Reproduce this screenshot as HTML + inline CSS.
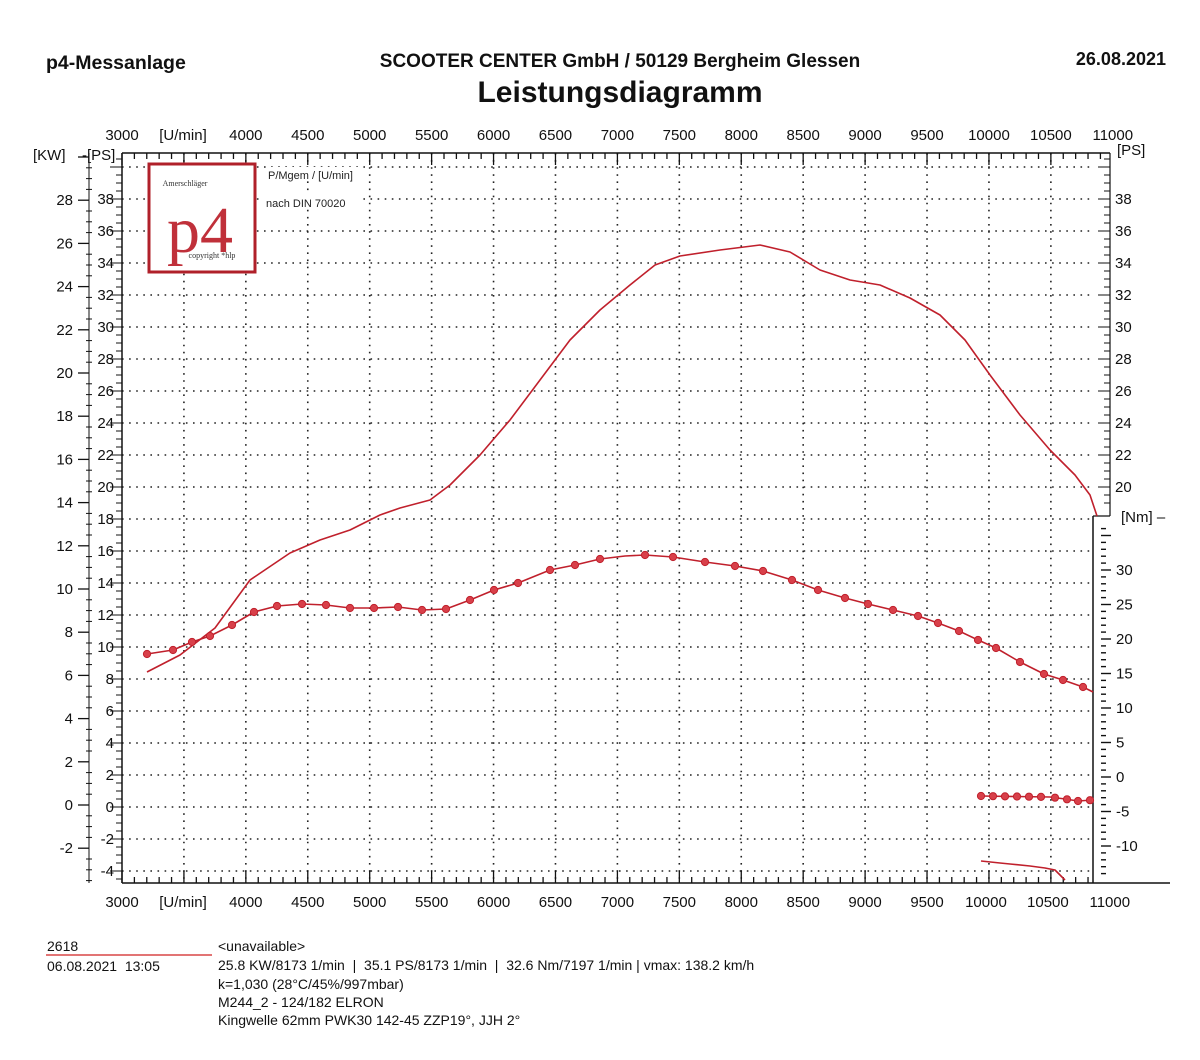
<!DOCTYPE html>
<html><head><meta charset="utf-8"><style>
html,body{margin:0;padding:0;background:#fff;}
svg{display:block;font-family:"Liberation Sans",Arial,sans-serif;}
</style></head><body>
<svg id="s" width="1200" height="1060" viewBox="0 0 1200 1060" xmlns="http://www.w3.org/2000/svg">
<text x="46" y="69" font-size="19.5" font-weight="bold" fill="#111">p4-Messanlage</text>
<text x="620" y="67" font-size="19" font-weight="bold" fill="#111" text-anchor="middle">SCOOTER CENTER GmbH / 50129 Bergheim Glessen</text>
<text x="620" y="102" font-size="30" font-weight="bold" fill="#111" text-anchor="middle">Leistungsdiagramm</text>
<text x="1166" y="65" font-size="18" font-weight="bold" fill="#111" text-anchor="end">26.08.2021</text>
<g id="g"></g>
<rect x="149" y="164" width="106" height="108" fill="#fff" stroke="#b0202a" stroke-width="3"/>
<text x="185" y="186" font-size="8" font-family="Liberation Serif,serif" fill="#333" text-anchor="middle">Amerschläger</text>
<text x="200" y="252" font-size="66" font-family="Liberation Serif,serif" fill="#c0303a" text-anchor="middle">p4</text>
<text x="212" y="258" font-size="8" font-family="Liberation Serif,serif" fill="#333" text-anchor="middle">copyright *hlp</text>
<rect x="266" y="167" width="96" height="14" fill="#fff"/>
<text x="268" y="179" font-size="11" fill="#222">P/Mgem / [U/min]</text>
<rect x="264" y="195" width="94" height="14" fill="#fff"/>
<text x="266" y="207" font-size="11" fill="#222">nach DIN 70020</text>
<text x="47" y="951" font-size="14" fill="#111">2618</text>
<line x1="46" y1="955" x2="212" y2="955" stroke="#d02020" stroke-width="1.2"/>
<text x="47" y="971" font-size="14" fill="#111">06.08.2021&#160;&#160;13:05</text>
<g font-size="14" fill="#111">
<text x="218" y="951">&lt;unavailable&gt;</text>
<text x="218" y="970">25.8 KW/8173 1/min&#160;&#160;|&#160;&#160;35.1 PS/8173 1/min&#160;&#160;|&#160;&#160;32.6 Nm/7197 1/min | vmax: 138.2 km/h</text>
<text x="218" y="989">k=1,030 (28°C/45%/997mbar)</text>
<text x="218" y="1007">M244_2 - 124/182 ELRON</text>
<text x="218" y="1025">Kingwelle 62mm PWK30 142-45 ZZP19°, JJH 2°</text>
</g>
</svg>
<script>
const NS="http://www.w3.org/2000/svg",g=document.getElementById('g');
function el(t,a,txt){const e=document.createElementNS(NS,t);for(const k in a)e.setAttribute(k,a[k]);if(txt!=null)e.textContent=txt;g.appendChild(e);return e;}
const X=r=>122+(r-3000)*0.12385;
const PS=p=>807-p*16.0;
const KW=k=>805-k*21.6;
const NM=n=>777-n*6.9;
const L=122,R=1093,T=153,B=883;
for(let r=3500;r<=10500;r+=500){el('line',{x1:X(r),y1:T,x2:X(r),y2:B,stroke:'#222','stroke-width':1.6,'stroke-dasharray':'1.6 5.5'});}
for(let p=-4;p<=40;p+=2){const y=PS(p);if(y<T+5||y>B-5)continue;el('line',{x1:L,y1:y,x2:R,y2:y,stroke:'#222','stroke-width':1.6,'stroke-dasharray':'1.6 5.5'});}
el('line',{x1:L,y1:T,x2:1110,y2:T,stroke:'#111','stroke-width':1.5});
el('line',{x1:L,y1:T,x2:L,y2:B,stroke:'#111','stroke-width':1.5});
el('line',{x1:L,y1:B,x2:1170,y2:B,stroke:'#111','stroke-width':1.5});
el('line',{x1:1110,y1:T,x2:1110,y2:516,stroke:'#111','stroke-width':1.2});
el('line',{x1:R,y1:516,x2:R,y2:B,stroke:'#111','stroke-width':1.5});
el('line',{x1:R,y1:516,x2:1110,y2:516,stroke:'#111','stroke-width':1.2});
for(let r=3000;r<=10900;r+=100){const x=X(r),m=r%500==0;el('line',{x1:x,y1:T,x2:x,y2:T+(m?12:6),stroke:'#111','stroke-width':1.3});if(x<=R)el('line',{x1:x,y1:B,x2:x,y2:B-(m?12:6),stroke:'#111','stroke-width':1.3});}
const lbl=[3000,4000,4500,5000,5500,6000,6500,7000,7500,8000,8500,9000,9500,10000,10500,11000];
for(const r of lbl){el('text',{x:X(r),y:140,'font-size':15,'text-anchor':'middle',fill:'#111'},r);el('text',{x:X(r)-(r>=10000?3:0),y:907,'font-size':15,'text-anchor':'middle',fill:'#111'},r);}
el('text',{x:183,y:140,'font-size':15,'text-anchor':'middle',fill:'#111'},'[U/min]');
el('text',{x:183,y:907,'font-size':15,'text-anchor':'middle',fill:'#111'},'[U/min]');
el('text',{x:33,y:160,'font-size':15,fill:'#111'},'[KW]');
el('text',{x:82,y:160,'font-size':15,fill:'#111'},'-[PS]');
el('text',{x:1117,y:155,'font-size':15,fill:'#111'},'[PS]');
el('text',{x:1121,y:522,'font-size':15,fill:'#111'},'[Nm] –');
for(let p=-4.5;p<=40.5;p+=0.5){const y=PS(p);if(y<T||y>B)continue;const m=Math.abs(p%2)<0.01;el('line',{x1:L-(m?12:6),y1:y,x2:L,y2:y,stroke:'#111','stroke-width':1});
 if(m&&p<=38){el('text',{x:L-8,y:y+5,'font-size':15,'text-anchor':'end',fill:'#111'},p);}}
for(let p=19;p<=40.5;p+=0.5){const y=PS(p);if(y<T||y>516)continue;const m=Math.abs(p%2)<0.01;el('line',{x1:1110-(m?12:6),y1:y,x2:1110,y2:y,stroke:'#111','stroke-width':1});if(m&&p<=38&&p>=20)el('text',{x:1115,y:y+5,'font-size':15,fill:'#111'},p);}
el('line',{x1:89,y1:T,x2:89,y2:B,stroke:'#111','stroke-width':1});
for(let k=-4.5;k<=30;k+=0.5){const y=KW(k);if(y<T||y>B)continue;const m=Math.abs(k%2)<0.01;el('line',{x1:89-(m?0:3),y1:y,x2:89+(m?0:3),y2:y,stroke:'#111','stroke-width':1});
 if(m){el('line',{x1:78,y1:y,x2:89,y2:y,stroke:'#111','stroke-width':1.3});if(k<=28)el('text',{x:73,y:y+5,'font-size':15,'text-anchor':'end',fill:'#111'},k);}}
for(let n=-15;n<=36;n+=1){const y=NM(n);if(y<524||y>878)continue;const m=n%5==0;el('line',{x1:1101,y1:y,x2:1101+(m?10:5),y2:y,stroke:'#111','stroke-width':1.4});if(m&&n<=30)el('text',{x:1116,y:y+5,'font-size':15,fill:'#111'},n);}
const C='#c0202c';
function path(pts,w){el('polyline',{points:pts.map(p=>p.join(',')).join(' '),fill:'none',stroke:C,'stroke-width':w||1.6,'stroke-linejoin':'round'});}
path([[147,672],[180,655],[215,628],[250,580],[290,553],[320,540],[350,530],[380,515],[400,508],[430,500],[450,485],[480,455],[510,420],[540,380],[570,340],[600,310],[630,285],[655,265],[680,256],[720,250],[760,245],[790,252],[820,270],[850,280],[880,285],[910,298],[940,315],[965,340],[990,375],[1020,415],[1050,450],[1075,475],[1090,495],[1097,516]]);
const tq=[[147,654],[173,650],[192,642],[210,636],[232,625],[254,612],[277,606],[302,604],[326,605],[350,608],[374,608],[398,607],[422,610],[446,609],[470,600],[494,590],[518,583],[550,570],[575,565],[600,559],[625,556],[645,555],[673,557],[705,562],[735,566],[763,571],[792,580],[818,590],[845,598],[868,604],[893,610],[918,616],[938,623],[959,631],[978,640],[996,648],[1020,662],[1044,674],[1063,680],[1083,687],[1093,692]];
path(tq);
const dots=[147,173,192,210,232,254,277,302,326,350,374,398,422,446,470,494,518,550,575,600,645,673,705,735,763,792,818,845,868,893,918,938,959,978,996,1020,1044,1063,1083];
function yAt(pts,x){for(let i=1;i<pts.length;i++){if(x<=pts[i][0]){const a=pts[i-1],b=pts[i];return a[1]+(b[1]-a[1])*(x-a[0])/(b[0]-a[0]);}}return pts[pts.length-1][1];}
for(const x of dots)el('circle',{cx:x,cy:yAt(tq,x),r:3.6,fill:'#d8404a',stroke:C,'stroke-width':1});
const lo=[[981,796],[1050,797],[1065,799],[1078,801],[1093,800]];
path(lo);
for(const x of [981,993,1005,1017,1029,1041,1055,1067,1078,1090])el('circle',{cx:x,cy:yAt(lo,x),r:3.6,fill:'#d8404a',stroke:C,'stroke-width':1});
path([[981,861],[1000,863],[1010,864],[1030,866],[1045,868],[1055,870],[1065,880]]);
</script>
</body></html>
